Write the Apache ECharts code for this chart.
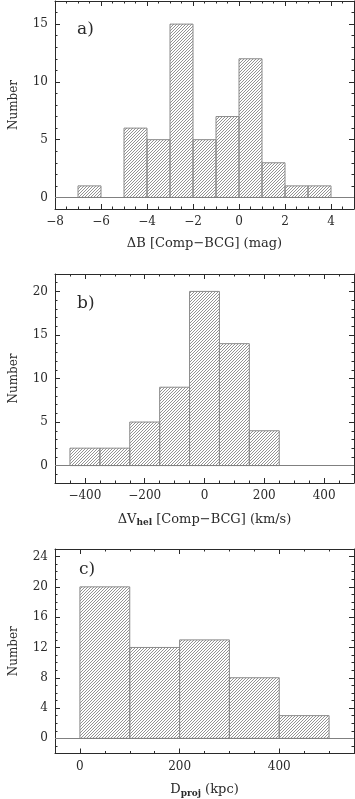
<!DOCTYPE html>
<html>
<head>
<meta charset="utf-8">
<script src="https://cdn.jsdelivr.net/npm/echarts@6/dist/echarts.min.js"></script>
<style>
  html, body { margin: 0; padding: 0; background: #fff; }
  #chart { width: 355px; height: 799px; }
</style>
</head>
<body>
<div id="chart"></div>
<script>
// panel a: Delta B histogram, bin edges and counts
const aEdges = [-7, -6, -5, -4, -3, -2, -1, 0, 1, 2, 3, 4];
const aCounts = [1, 0, 6, 5, 15, 5, 7, 12, 3, 1, 1];
const aXTicks = [-8, -6, -4, -2, 0, 2, 4];
const aYTicks = [0, 5, 10, 15];

// panel b: Delta V_hel histogram
const bEdges = [-450, -350, -250, -150, -50, 50, 150, 250];
const bCounts = [2, 2, 5, 9, 20, 14, 4];
const bXTicks = [-400, -200, 0, 200, 400];
const bYTicks = [0, 5, 10, 15, 20];

// panel c: D_proj histogram
const cEdges = [0, 100, 200, 300, 400, 500];
const cCounts = [20, 12, 13, 8, 3];
const cXTicks = [0, 200, 400];
const cYTicks = [0, 4, 8, 12, 16, 20, 24];

const FONT = 'DejaVu Serif';
const INK = '#2a2a2a';

// diagonal hatch
function makeHatch() {
    let s = 3;
    let cv = document.createElement('canvas');
    cv.width = s; cv.height = s;
    let ctx = cv.getContext('2d');
    ctx.strokeStyle = '#777';
    ctx.lineWidth = 0.8;
    for (let k = -1; k <= 1; k++) {
        ctx.beginPath();
        ctx.moveTo(k * s, s);
        ctx.lineTo(k * s + s, 0);
        ctx.stroke();
    }
    return cv;
}
const hatch = { image: makeHatch(), repeat: 'repeat' };

function histData(edges, counts) {
    let out = [];
    for (let i = 0; i < counts.length; i++) {
        if (counts[i] > 0) out.push([edges[i], edges[i + 1], counts[i]]);
    }
    return out;
}

function renderHist(params, api) {
    let p0 = api.coord([api.value(0), api.value(2)]);
    let p1 = api.coord([api.value(1), 0]);
    return {
        type: 'rect',
        shape: { x: p0[0], y: p0[1], width: p1[0] - p0[0], height: p1[1] - p0[1] },
        style: { fill: hatch, stroke: '#8a8a8a', lineWidth: 1 }
    };
}

// main + minor axis on both edges
function makeAxes(g, dim, min, max, ticks, minorStep) {
    let lowPos = dim === 'x' ? 'bottom' : 'left';
    let highPos = dim === 'x' ? 'top' : 'right';
    let base = {
        type: 'value', gridIndex: g, min: min, max: max, interval: minorStep,
        splitLine: { show: false }
    };
    let mainAxis = function (pos, withLabel) {
        return Object.assign({}, base, {
            position: pos,
            axisLine: { show: true, onZero: false, lineStyle: { color: INK, width: 1 } },
            axisTick: { show: true, inside: true, length: 5, customValues: ticks, lineStyle: { color: INK } },
            axisLabel: {
                show: withLabel, customValues: ticks, margin: 7,
                color: INK, fontFamily: FONT, fontSize: 12,
                formatter: v => (v < 0 ? '\u2212' + (-v) : '' + v)
            },
            nameLocation: 'middle'
        });
    };
    let minorAxis = function (pos) {
        return Object.assign({}, base, {
            position: pos,
            axisLine: { show: false, onZero: false },
            axisTick: { show: true, inside: true, length: 2.5, lineStyle: { color: INK } },
            axisLabel: { show: false }
        });
    };
    return [mainAxis(lowPos, true), minorAxis(lowPos), mainAxis(highPos, false), minorAxis(highPos)];
}

const nameStyle = {
    color: INK, fontFamily: FONT, fontSize: 13,
    rich: {
        n: { fontFamily: FONT, fontSize: 13, color: INK, lineHeight: 17 },
        s: { fontFamily: FONT, fontSize: 9, color: INK, fontWeight: 'bold', lineHeight: 17, padding: [7, 0, 0, 0] }
    }
};

const grids = [
    { left: 51, right: 1, top: 1, height: 208 },
    { left: 51, right: 1, top: 274, height: 209 },
    { left: 51, right: 1, top: 549, height: 208 }
];

let xAxes = [], yAxes = [];
function addPanel(g, xmin, xmax, xticks, xminor, xname, ymin, ymax, yticks) {
    let xs = makeAxes(g, 'x', xmin, xmax, xticks, xminor);
    xs[0].name = xname;
    xs[0].nameGap = 28;
    xs[0].nameTextStyle = nameStyle;
    let ys = makeAxes(g, 'y', ymin, ymax, yticks, 1);
    ys[0].name = 'Number';
    ys[0].nameGap = 35;
    ys[0].nameTextStyle = { color: INK, fontFamily: FONT, fontSize: 12 };
    xAxes = xAxes.concat(xs);
    yAxes = yAxes.concat(ys);
}

addPanel(0, -8, 5, aXTicks, 0.5, '\u0394B [Comp\u2212BCG] (mag)', -1, 17, aYTicks);
addPanel(1, -500, 500, bXTicks, 50, '{n|\u0394V}{s|hel}{n| [Comp\u2212BCG] (km/s)}', -2, 22, bYTicks);
addPanel(2, -50, 550, cXTicks, 50, '{n|D}{s|proj}{n| (kpc)}', -2, 25, cYTicks);

function histSeries(g, edges, counts) {
    return {
        type: 'custom',
        xAxisIndex: g * 4,
        yAxisIndex: g * 4,
        renderItem: renderHist,
        encode: { x: [0, 1], y: 2 },
        data: histData(edges, counts),
        silent: true,
        markLine: {
            silent: true,
            symbol: 'none',
            label: { show: false },
            lineStyle: { color: '#808080', width: 1, type: 'solid' },
            data: [{ yAxis: 0 }]
        }
    };
}

let chart = echarts.init(document.getElementById('chart'));
let option = {
    animation: false,
    backgroundColor: '#fff',
    title: [
        { text: 'a)', left: 72, top: 16, textStyle: { fontFamily: FONT, fontSize: 17, fontWeight: 'normal', color: INK } },
        { text: 'b)', left: 72, top: 290, textStyle: { fontFamily: FONT, fontSize: 17, fontWeight: 'normal', color: INK } },
        { text: 'c)', left: 74, top: 556, textStyle: { fontFamily: FONT, fontSize: 17, fontWeight: 'normal', color: INK } }
    ],
    grid: grids,
    xAxis: xAxes,
    yAxis: yAxes,
    series: [
        histSeries(0, aEdges, aCounts),
        histSeries(1, bEdges, bCounts),
        histSeries(2, cEdges, cCounts)
    ]
};
chart.setOption(option);
</script>
</body>
</html>
